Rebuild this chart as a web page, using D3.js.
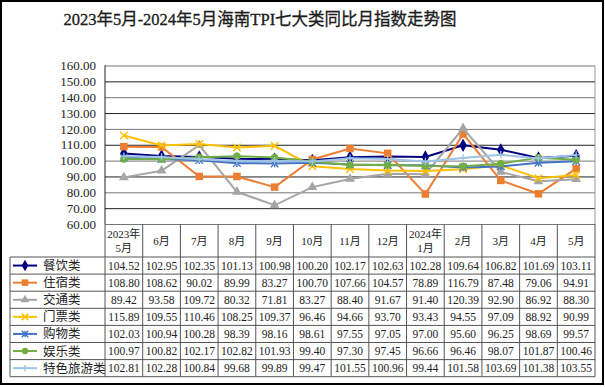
<!DOCTYPE html>
<html><head><meta charset="utf-8">
<script src="https://cdn.jsdelivr.net/npm/d3@7"></script>
<style>body{margin:0;background:#fff}svg{display:block}text{font-family:"Liberation Serif","Noto Sans CJK SC",serif;fill:#222}</style>
</head><body><svg id="c" width="605" height="387"></svg>
<script>
const title = "2023年5月-2024年5月海南TPI七大类同比月指数走势图";
const months = [["2023年","5月"],["6月"],["7月"],["8月"],["9月"],["10月"],["11月"],["12月"],["2024年","1月"],["2月"],["3月"],["4月"],["5月"]];
const seriesNames = ["餐饮类","住宿类","交通类","门票类","购物类","娱乐类","特色旅游类"];
const seriesColors = ["#000080","#ED7D31","#A5A5A5","#FFC000","#4472C4","#70AD47","#9DC3E6"];
const seriesMarkers = ["diamond","square","triangle","x","star","circle","plus"];
const canyin   = [104.52,102.95,102.35,101.13,100.98,100.20,102.17,102.63,102.28,109.64,106.82,101.69,103.11];
const zhusu    = [108.80,108.62,90.02,89.99,83.27,100.70,107.66,104.57,78.89,116.79,87.48,79.06,94.91];
const jiaotong = [89.42,93.58,109.72,80.32,71.81,83.27,88.40,91.67,91.40,120.39,92.90,86.92,88.30];
const menpiao  = [115.89,109.55,110.46,108.25,109.37,96.46,94.66,93.70,93.43,94.55,97.09,88.92,90.99];
const gouwu    = [102.03,100.94,100.28,98.39,98.16,98.61,97.55,97.05,97.00,95.60,96.25,98.69,99.57];
const yule     = [100.97,100.82,102.17,102.82,101.93,99.40,97.30,97.45,96.66,96.46,98.07,101.87,100.46];
const tese     = [102.81,102.28,100.84,99.68,99.89,99.47,101.55,100.96,99.44,101.58,103.69,101.38,103.55];
const seriesValues = [canyin,zhusu,jiaotong,menpiao,gouwu,yule,tese];
const yTicks = [60,70,80,90,100,110,120,130,140,150,160];

const svg = d3.select("#c");
const L = 105, R = 595, T = 65.5, B = 224;
const rowTop = 257, rowH = 17.1, tableLeft = 10;
const x = d3.scaleBand().domain(d3.range(13)).range([L, R]);
const y = d3.scaleLinear().domain([60,160]).range([B, T]);

svg.append("rect").attr("x",1).attr("y",1).attr("width",602).attr("height",383)
  .attr("fill","none").attr("stroke","#000").attr("stroke-width",2);

svg.append("text").attr("x",260).attr("y",25).attr("text-anchor","middle")
  .attr("font-size",16.5).attr("fill","#111").attr("stroke","#111").attr("stroke-width",0.3).text(title);

const yAxis = d3.axisLeft(y).tickValues(yTicks).tickSize(-(R-L)).tickFormat(d=>d.toFixed(2)).tickPadding(9);
const ga = svg.append("g").attr("transform",`translate(${L},0)`).call(yAxis);
ga.select(".domain").remove();
ga.selectAll(".tick line").attr("stroke",(d,i)=> i%2 ? "#222" : "#777").attr("stroke-width",1);
ga.selectAll(".tick text").attr("font-size",13).attr("fill","#222").style("font-family","Liberation Serif");
svg.append("line").attr("x1",L).attr("x2",L).attr("y1",T).attr("y2",B).attr("stroke","#222");
svg.append("line").attr("x1",R).attr("x2",R).attr("y1",T).attr("y2",B).attr("stroke","#999");

const hdr = svg.append("g");
d3.range(14).forEach(i=>{
  const xx = i<13 ? x(i) : R;
  hdr.append("line").attr("x1",xx).attr("x2",xx).attr("y1",B).attr("y2",rowTop+7*rowH).attr("stroke","#555");
});
months.forEach((m,i)=>{
  const cx = x(i)+x.bandwidth()/2;
  if (m.length===2){
    hdr.append("text").attr("x",cx).attr("y",238).attr("text-anchor","middle").attr("font-size",11).text(m[0]);
    hdr.append("text").attr("x",cx).attr("y",252).attr("text-anchor","middle").attr("font-size",11).text(m[1]);
  } else {
    hdr.append("text").attr("x",cx).attr("y",245).attr("text-anchor","middle").attr("font-size",11).text(m[0]);
  }
});
d3.range(8).forEach(r=>{
  svg.append("line").attr("x1",tableLeft).attr("x2",R).attr("y1",rowTop+r*rowH).attr("y2",rowTop+r*rowH).attr("stroke","#555");
});
svg.append("line").attr("x1",tableLeft).attr("x2",tableLeft).attr("y1",rowTop).attr("y2",rowTop+7*rowH).attr("stroke","#555");

function marker(g, type, cx, cy, color, s){
  const sym = {diamond:d3.symbolDiamond, square:d3.symbolSquare, triangle:d3.symbolTriangle, circle:d3.symbolCircle};
  if (sym[type]){
    const size = {diamond:s*s*0.9, square:s*s, triangle:s*s*0.75, circle:s*s*0.75}[type];
    g.append("path").attr("d",d3.symbol().type(sym[type]).size(size)()).attr("transform",`translate(${cx},${cy})`).attr("fill",color);
  } else if (type==="x"){
    const h=s/2;
    g.append("path").attr("d",`M${cx-h},${cy-h}L${cx+h},${cy+h}M${cx-h},${cy+h}L${cx+h},${cy-h}`).attr("stroke",color).attr("stroke-width",1.5);
  } else if (type==="star"){
    const h=s/2;
    g.append("path").attr("d",`M${cx-h},${cy-h}L${cx+h},${cy+h}M${cx-h},${cy+h}L${cx+h},${cy-h}M${cx},${cy-h}L${cx},${cy+h}`).attr("stroke",color).attr("stroke-width",1.3);
  } else if (type==="plus"){
    const h=s/2;
    g.append("path").attr("d",`M${cx-h},${cy}L${cx+h},${cy}M${cx},${cy-h}L${cx},${cy+h}`).attr("stroke",color).attr("stroke-width",1.3);
  }
}

const line = d3.line().x((d,i)=>x(i)+x.bandwidth()/2).y(d=>y(d));
seriesValues.forEach((vals,s)=>{
  const g = svg.append("g");
  g.append("path").attr("d",line(vals)).attr("fill","none").attr("stroke",seriesColors[s]).attr("stroke-width",2);
  vals.forEach((v,i)=> marker(g, seriesMarkers[s], x(i)+x.bandwidth()/2, y(v), seriesColors[s], 7.5));
  const cy = rowTop + s*rowH + rowH/2;
  g.append("line").attr("x1",13).attr("x2",37).attr("y1",cy).attr("y2",cy).attr("stroke",seriesColors[s]).attr("stroke-width",2);
  marker(g, seriesMarkers[s], 25, cy, seriesColors[s], 6.5);
  g.append("text").attr("x",43).attr("y",cy+4.5).attr("font-size",12.5).text(seriesNames[s]);
  vals.forEach((v,i)=>{
    g.append("text").attr("x",x(i)+x.bandwidth()/2).attr("y",cy+4).attr("text-anchor","middle")
      .attr("font-size",11.5).attr("fill","#333").text(v.toFixed(2));
  });
});
</script></body></html>
